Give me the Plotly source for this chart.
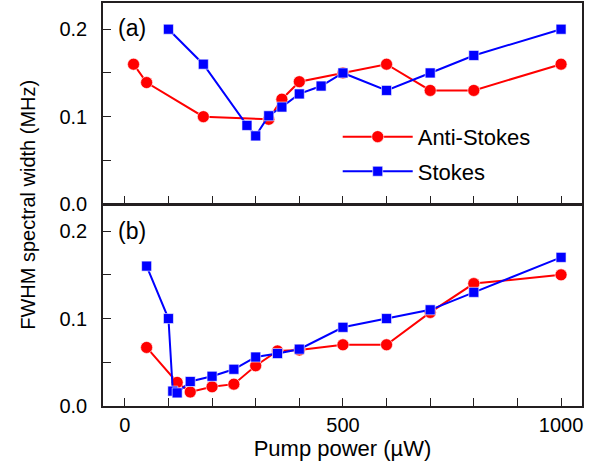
import plotly.graph_objects as go
from plotly.subplots import make_subplots

# Panel (a)
a_as_x = [20, 50, 180, 330, 360, 400, 500, 600, 700, 800, 1000]
a_as_y = [0.160, 0.139, 0.100, 0.097, 0.120, 0.140, 0.150, 0.160, 0.130, 0.130, 0.160]
a_s_x = [100, 180, 280, 300, 330, 360, 400, 450, 500, 600, 700, 800, 1000]
a_s_y = [0.200, 0.160, 0.090, 0.078, 0.101, 0.111, 0.126, 0.135, 0.150, 0.130, 0.150, 0.170, 0.200]

# Panel (b)
b_as_x = [50, 120, 150, 200, 250, 300, 350, 400, 500, 600, 700, 800, 1000]
b_as_y = [0.067, 0.027, 0.016, 0.022, 0.025, 0.046, 0.063, 0.064, 0.070, 0.070, 0.107, 0.140, 0.150]
b_s_x = [50, 100, 110, 120, 150, 200, 250, 300, 350, 400, 500, 600, 700, 800, 1000]
b_s_y = [0.160, 0.100, 0.017, 0.015, 0.028, 0.034, 0.042, 0.056, 0.060, 0.065, 0.090, 0.100, 0.110, 0.130, 0.170]

x_ticks = list(range(0, 1001, 100))
x_labels = ["0", "", "", "", "", "500", "", "", "", "", "1000"]
y_ticks = [0.0, 0.05, 0.1, 0.15, 0.2]
y_labels = ["0.0", "", "0.1", "", "0.2"]

RED = "#ff0000"
BLUE = "#0000ff"
FRAME = "#231f20"
FONT = "Liberation Sans, Arial, sans-serif"

fig = make_subplots(rows=2, cols=1, shared_xaxes=True, vertical_spacing=0.0)

def add(x, y, color, symbol, name, row, show):
    fig.add_trace(go.Scatter(
        x=x, y=y, mode="lines+markers", name=name, showlegend=show,
        legendgroup=name,
        line=dict(color=color, width=2),
        marker=dict(color=color, symbol=symbol, size=12 if symbol == "circle" else 10,
                    line=dict(color="white", width=0.6)),
    ), row=row, col=1)

add(a_as_x, a_as_y, RED, "circle", "Anti-Stokes", 1, True)
add(a_s_x, a_s_y, BLUE, "square", "Stokes", 1, True)
add(b_as_x, b_as_y, RED, "circle", "Anti-Stokes", 2, False)
add(b_s_x, b_s_y, BLUE, "square", "Stokes", 2, False)

axis_common = dict(showline=True, linecolor=FRAME, linewidth=1.5, mirror=True,
                   ticks="inside", ticklen=8, tickwidth=1.2, tickcolor=FRAME,
                   showgrid=False, zeroline=False, automargin=False,
                   tickfont=dict(family=FONT, size=20, color="black"))

fig.update_xaxes(range=[-50, 1048], tickmode="array", tickvals=x_ticks, ticktext=x_labels,
                 **axis_common)
fig.update_xaxes(title=dict(text="Pump power (\u00b5W)", font=dict(family=FONT, size=22, color="black"),
                            standoff=4), row=2, col=1)
fig.update_yaxes(range=[0, 0.23], tickmode="array", tickvals=y_ticks, ticktext=y_labels,
                 ticklabelstandoff=10, **axis_common)

fig.update_layout(
    width=599, height=472,
    margin=dict(l=103, r=17, t=3, b=66),
    paper_bgcolor="white", plot_bgcolor="white",
    font=dict(family=FONT, size=20, color="black"),
    yaxis=dict(domain=[0.501, 1.0]),
    yaxis2=dict(domain=[0.0, 0.499]),
    legend=dict(x=0.49, y=0.72, xanchor="left", yanchor="top",
                bgcolor="rgba(0,0,0,0)", itemwidth=70,
                font=dict(family=FONT, size=22, color="black"), tracegroupgap=3),
    annotations=[
        dict(text="FWHM spectral width (MHz)", xref="paper", yref="paper",
             x=-0.158, y=0.5, xanchor="center", yanchor="middle",
             textangle=-90, showarrow=False,
             font=dict(family=FONT, size=20, color="black")),
        dict(text="(a)", xref="paper", yref="paper", x=0.028, y=0.938,
             xanchor="left", yanchor="middle", showarrow=False,
             font=dict(family=FONT, size=23, color="black")),
        dict(text="(b)", xref="paper", yref="paper", x=0.028, y=0.434,
             xanchor="left", yanchor="middle", showarrow=False,
             font=dict(family=FONT, size=23, color="black")),
    ],
)

fig.write_html("out.html", config={"displayModeBar": False},
               post_script="document.body.style.margin='0';")
